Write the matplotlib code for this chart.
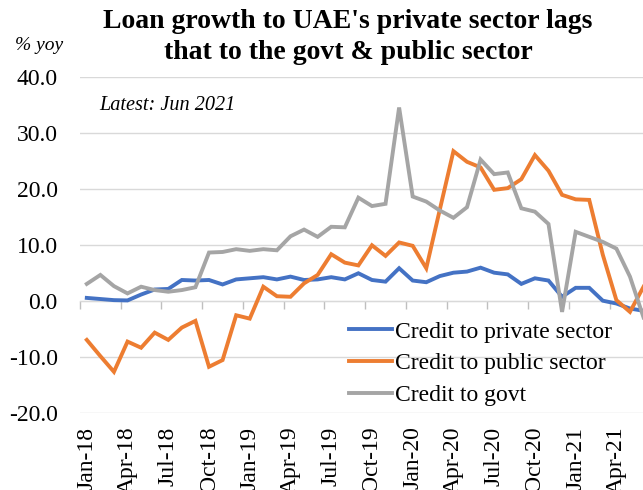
import matplotlib
matplotlib.use("Agg")
import matplotlib.pyplot as plt
import numpy as np

plt.rcParams["font.family"] = ["Liberation Serif", "DejaVu Serif"]

# monthly data, Jan-18 .. Jun-21 (% yoy)
months = ["Jan-18", "Feb-18", "Mar-18", "Apr-18", "May-18", "Jun-18", "Jul-18", "Aug-18",
          "Sep-18", "Oct-18", "Nov-18", "Dec-18", "Jan-19", "Feb-19", "Mar-19", "Apr-19",
          "May-19", "Jun-19", "Jul-19", "Aug-19", "Sep-19", "Oct-19", "Nov-19", "Dec-19",
          "Jan-20", "Feb-20", "Mar-20", "Apr-20", "May-20", "Jun-20", "Jul-20", "Aug-20",
          "Sep-20", "Oct-20", "Nov-20", "Dec-20", "Jan-21", "Feb-21", "Mar-21", "Apr-21",
          "May-21", "Jun-21"]
private = [0.5, 0.3, 0.1, 0.05, 1.1, 2.0, 2.1, 3.7, 3.6, 3.7, 2.9, 3.8, 4.0, 4.2, 3.8,
           4.3, 3.7, 3.8, 4.2, 3.8, 4.9, 3.7, 3.4, 5.8, 3.6, 3.3, 4.4, 5.0, 5.2, 5.9, 5.0,
           4.7, 3.0, 4.0, 3.6, 0.7, 2.3, 2.3, 0.0, -0.5, -1.4, -1.8]
public = [-7.0, -9.9, -12.7, -7.3, -8.4, -5.7, -7.0, -4.8, -3.6, -11.8, -10.6, -2.6, -3.2,
          2.5, 0.8, 0.7, 3.1, 4.6, 8.3, 6.8, 6.3, 9.9, 8.0, 10.4, 9.8, 5.8, 16.3, 26.7, 24.8,
          23.8, 19.8, 20.1, 21.7, 26.0, 23.2, 18.9, 18.1, 18.0, 8.2, 0.1, -2.0, 2.5]
govt = [3.0, 4.6, 2.6, 1.3, 2.5, 1.9, 1.6, 1.9, 2.4, 8.6, 8.7, 9.2, 8.9, 9.2, 9.0, 11.5,
        12.7, 11.4, 13.2, 13.1, 18.4, 16.9, 17.3, 34.5, 18.6, 17.7, 16.1, 14.8, 16.7, 25.2,
        22.6, 22.9, 16.5, 15.9, 13.7, -2.0, 12.3, 11.4, 10.5, 9.3, 4.3, -3.0]
series_names = ["Credit to private sector", "Credit to public sector", "Credit to govt"]
colors = ["#4472C4", "#ED7D31", "#A5A5A5"]

W, H = 643, 490
fig = plt.figure(figsize=(W / 100, H / 100), dpi=100)
ax = fig.add_axes([80 / W, (H - 412.7) / H, (W - 80) / W, (412.7 - 76.7) / H])

x = np.arange(len(months))
for vals, name, c in zip([private, public, govt], series_names, colors):
    ax.plot(x, vals, color=c, lw=2.8, label=name, solid_joinstyle="miter")

ax.set_xlim(-0.5, 40.96)
ax.set_ylim(-20, 40)
ax.set_yticks(np.arange(-20, 41, 10))
ax.set_yticklabels([f"{v:.1f}" for v in np.arange(-20, 41, 10)], fontsize=17)
ax.yaxis.grid(True, color="#d9d9d9", lw=1)
ax.set_axisbelow(True)
ax.tick_params(axis="y", length=0, pad=16)
ax.set_xticks(x[::3])
ax.set_xticklabels(months[::3], rotation=90, fontsize=17, va="top")
ax.tick_params(axis="x", length=0, pad=10)
for s in ax.spines.values():
    s.set_visible(False)

# category axis crossing at zero, tick marks between categories
zero_ax = ax.secondary_xaxis(1 / 3)
zero_ax.set_xticks(np.arange(-0.5, len(months), 3))
zero_ax.set_xticklabels([])
zero_ax.tick_params(axis="x", direction="out", length=6, color="#bfbfbf", width=1)
zero_ax.spines["bottom"].set_color("#bfbfbf")

leg = fig.legend(loc="upper left", bbox_to_anchor=(349 / W, 1 - 321 / H), frameon=False,
                 fontsize=17, handlelength=1.8, handletextpad=0.15, labelspacing=0.44,
                 borderpad=0, borderaxespad=0)

fig.text(348 / W, 1 - 37 / H, "Loan growth to UAE's private sector lags\nthat to the govt & public sector",
         ha="center", va="center", fontsize=20, fontweight="bold", linespacing=1.3)
fig.text(15 / W, 1 - 46 / H, "% yoy", ha="left", va="center", fontsize=14, style="italic")
fig.text(99 / W, 1 - 105 / H, "Latest: Jun 2021", ha="left", va="center", fontsize=14.6,
         style="italic")

fig.savefig("out.png", dpi=100)
